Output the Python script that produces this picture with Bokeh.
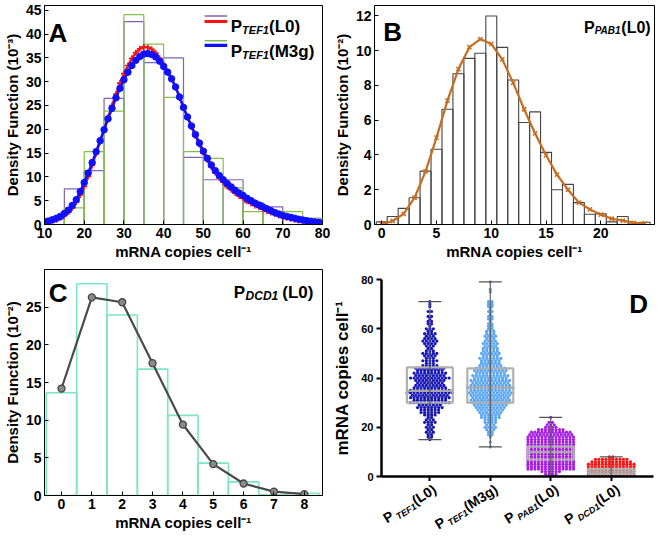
import math
from bokeh.plotting import figure
from bokeh.layouts import column, row
from bokeh.models import Label, BoxAnnotation, FixedTicker, Range1d, Div
from bokeh.embed import file_html
from bokeh.resources import INLINE

FONT = "Liberation Sans"

# ---------------- data ----------------
# Panel A
a_edges = [10, 15, 20, 25, 30, 35, 40, 45, 50, 55, 60, 65, 70, 75, 80]
a_hist_L0 = [1.3, 7.5, 11.3, 26.5, 42.6, 34.0, 35.0, 14.1, 9.4, 9.4, 4.6, 3.7, 1.5, 0.8]
a_hist_M3g = [1.2, 3.5, 15.3, 23.8, 44.1, 37.9, 26.7, 15.3, 13.9, 7.7, 2.7, 2.7, 2.7, 1.36]
a_x = list(range(10, 81))
a_fit_L0 = [0.3, 0.45, 0.7, 1.0, 1.4, 1.9, 2.6, 3.5, 4.7, 6.2,
            8.0, 10.1, 12.4, 14.9, 17.4, 19.9, 22.5, 25.0, 27.4, 29.7,
            31.7, 33.4, 34.9, 36.1, 36.9, 37.3, 37.2, 36.8, 36.0, 34.9,
            33.6, 32.2, 30.6, 28.8, 26.7, 24.6, 22.5, 20.5, 18.6, 16.8,
            15.1, 13.5, 12.1, 10.9, 9.8, 8.9, 8.0, 7.3, 6.6, 6.0,
            5.5, 4.9, 4.4, 4.0, 3.6, 3.2, 2.8, 2.5, 2.2, 1.9,
            1.6, 1.4, 1.2, 1.0, 0.85, 0.7, 0.6, 0.5, 0.4, 0.32, 0.26]
a_fit_M3g = [0.5, 0.7, 1.0, 1.3, 1.7, 2.3, 3.0, 4.0, 5.2, 6.9,
             8.8, 10.8, 13.0, 15.3, 17.6, 19.9, 22.2, 24.4, 26.6, 28.6,
             30.4, 32.0, 33.4, 34.5, 35.3, 35.8, 35.9, 35.7, 35.2, 34.3,
             33.2, 32.0, 30.6, 28.9, 26.8, 24.6, 22.6, 20.7, 18.9, 17.1,
             15.4, 13.9, 12.5, 11.3, 10.3, 9.4, 8.6, 7.9, 7.2, 6.6,
             6.1, 5.5, 5.0, 4.5, 4.1, 3.7, 3.3, 2.9, 2.5, 2.2,
             1.9, 1.7, 1.5, 1.3, 1.1, 0.95, 0.8, 0.65, 0.55, 0.45, 0.35]

# Panel B
b_x = list(range(0, 25))
b_hist = [0.15, 0.46, 0.93, 1.54, 3.07, 4.33, 6.63, 8.67, 9.56, 9.85, 12.0, 10.19, 8.31,
          5.87, 6.48, 4.15, 2.0, 2.31, 1.26, 0.59, 0.61, 0.15, 0.46, 0.03, 0.13]
b_fit = [0.02, 0.2, 0.61, 1.54, 3.06, 5.0, 7.13, 8.94, 10.2, 10.67, 10.39, 9.5, 8.15,
         6.63, 5.24, 3.98, 2.87, 2.0, 1.26, 0.87, 0.57, 0.33, 0.22, 0.09, 0.07]

# Panel C
c_x = list(range(0, 9))
c_hist = [13.64, 28.1, 23.97, 16.78, 10.63, 4.30, 1.81, 0.1, 0.3]
c_fit = [14.2, 26.3, 25.65, 17.56, 9.42, 4.17, 1.59, 0.52, 0.17]

# Panel D (dot counts per integer copy number)
d_cats = [1, 2, 3, 4]
d_subs = ["TEF1", "TEF1", "PAB1", "DCD1"]
d_tails = ["(L0)", "(M3g)", "(L0)", "(L0)"]
d_colors = ["#1616b8", "#5aa6f4", "#a51fe2", "#ff1414"]
d_tef1_l0_values = list(range(15, 72))
d_tef1_l0_counts = [1, 2, 2, 3, 2, 3, 2, 4, 3, 2, 4, 6, 6, 8, 7, 12, 10, 12, 11, 14,
                    12, 10, 9, 8, 9, 12, 9, 10, 8, 9, 5, 3, 5, 3, 4, 5, 3, 2, 3, 4,
                    5, 4, 3, 4, 2, 3, 1, 2, 2, 1, 2, 0, 2, 0, 1, 1, 1]
d_tef1_m3g_values = list(range(12, 80))
d_tef1_m3g_counts = [1, 0, 1, 0, 1, 2, 2, 3, 4, 3, 4, 4, 6, 6, 7, 8, 9, 10, 11, 12,
                     11, 12, 13, 12, 14, 12, 11, 12, 10, 11, 9, 10, 9, 7, 6, 6, 7, 5, 6, 5,
                     5, 4, 5, 4, 3, 4, 3, 3, 2, 2, 2, 1, 2, 2, 1, 2, 1, 2, 2, 2,
                     0, 0, 0, 1, 1, 0, 0, 1]
d_pab1_values = list(range(0, 25))
d_pab1_counts = [3, 4, 6, 14, 14, 14, 14, 14, 14, 14, 14, 14, 14, 14, 14, 14, 14, 13, 12, 8,
                 4, 3, 2, 0, 1]
d_dcd1_values = list(range(0, 9))
d_dcd1_counts = [14, 14, 14, 14, 14, 14, 12, 10, 2]
d_q1 = [30.0, 30.0, 6.9, 1.1]
d_median = [34.8, 36.1, 9.9, 2.0]
d_q3 = [44.3, 43.9, 12.1, 3.1]
d_min = [15, 12, 0, 0]
d_max = [71, 79, 24, 8]

# ---------------- helpers ----------------
WID = {'P': .667, 'T': .611, 'E': .667, 'F': .611, '1': .556, '(': .333, ')': .333,
       'L': .611, '0': .556, 'M': .833, '3': .556, 'g': .611, 'A': .722, 'B': .722,
       'D': .722, 'C': .722, ' ': .278}


def tw(s, size):
    return sum(WID.get(ch, 0.6) for ch in s) * size


def compose(p, x, y, pieces, align="left"):
    total = sum(tw(t, s) + g for t, s, it, sh, g in pieces)
    cum = 0.0 if align == "left" else -total
    for t, s, it, sh, g in pieces:
        cum += g
        p.add_layout(Label(x=x, y=y, x_offset=cum, y_offset=-sh, text=t, text_font=FONT,
                           text_font_style="bold italic" if it else "bold",
                           text_font_size=f"{s}px", text_baseline="alphabetic",
                           text_align="left", text_color="black"))
        cum += tw(t, s)


def style_matlab(p, xticks, yticks, xlabel, ylabel):
    p.xaxis.ticker = FixedTicker(ticks=xticks)
    p.yaxis.ticker = FixedTicker(ticks=yticks)
    for ax in (p.xaxis, p.yaxis):
        ax.major_tick_in = 4
        ax.major_tick_out = 0
        ax.major_tick_line_color = "black"
        ax.minor_tick_line_color = None
        ax.axis_line_color = "black"
        ax.major_label_text_font = FONT
        ax.major_label_text_font_style = "bold"
        ax.major_label_text_font_size = "14px"
        ax.major_label_text_color = "black"
        ax.axis_label_text_font = FONT
        ax.axis_label_text_font_style = "bold"
        ax.axis_label_text_font_size = "15px"
        ax.axis_label_text_color = "black"
        ax.axis_label_standoff = 2
        ax.major_label_standoff = 3
    p.xaxis.axis_label = xlabel
    p.yaxis.axis_label = ylabel
    p.xgrid.visible = False
    p.ygrid.visible = False
    p.outline_line_color = "black"
    p.outline_line_alpha = 1.0
    p.background_fill_color = "white"


def letter(p, x, y, t):
    p.add_layout(Label(x=x, y=y, text=t, text_font=FONT, text_font_style="bold",
                       text_font_size="26px", text_baseline="alphabetic",
                       text_color="black"))


XLAB = "mRNA copies cell\u207b\u00b9"

# ---------------- Panel A ----------------
pA = figure(width=330, height=264, x_range=Range1d(10, 80), y_range=Range1d(0, 46),
            output_backend="svg", toolbar_location=None,
            min_border_left=37, min_border_right=8, min_border_top=5, min_border_bottom=40)
style_matlab(pA, [10, 20, 30, 40, 50, 60, 70, 80], [0, 5, 10, 15, 20, 25, 30, 35, 40, 45],
             XLAB, "Density Function (10\u207b\u00b3)")
pA.quad(left=a_edges[:-1], right=a_edges[1:], bottom=0, top=a_hist_L0,
        fill_color=None, line_color="#7f63b8", line_width=1.2)
pA.quad(left=a_edges[:-1], right=a_edges[1:], bottom=0, top=a_hist_M3g,
        fill_color=None, line_color="#86c04c", line_width=1.2)
pA.line(a_x, a_fit_L0, line_color="#ff1010", line_width=2.2)
pA.scatter(a_x, a_fit_L0, marker="cross", size=6, line_color="#ff1010", line_width=1.6)
pA.line(a_x, a_fit_M3g, line_color="#1010ff", line_width=2.5)
pA.scatter(a_x, a_fit_M3g, marker="circle", size=6.5, fill_color="#1010ff", line_color="#1010ff")
letter(pA, 11.0, 40.3, "A")
# legend
for (b, t, col) in [(43.65, 43.97, "#7f63b8"), (42.3, 42.95, "#ff1010"),
                    (38.45, 38.77, "#86c04c"), (37.3, 37.95, "#1010ff")]:
    pA.add_layout(BoxAnnotation(left=50.3, right=56.0, bottom=b, top=t,
                                fill_color=col, fill_alpha=1.0, line_color=None))
compose(pA, 56.9, 41.6, [("P", 17, False, 0, 0), ("TEF1", 11, True, 3.5, 0), ("(L0)", 17, False, 0, 0)])
compose(pA, 56.9, 36.3, [("P", 17, False, 0, 0), ("TEF1", 11, True, 3.5, 0), ("(M3g)", 17, False, 0, 0)])

# ---------------- Panel B ----------------
pB = figure(width=326, height=264, x_range=Range1d(-0.66, 24.9), y_range=Range1d(0, 12.6),
            output_backend="svg", toolbar_location=None,
            min_border_left=42, min_border_right=2, min_border_top=5, min_border_bottom=40)
style_matlab(pB, [0, 5, 10, 15, 20], [0, 2, 4, 6, 8, 10, 12],
             XLAB, "Density Function (10\u207b\u00b2)")
pB.quad(left=[v - 0.5 for v in b_x], right=[v + 0.5 for v in b_x], bottom=0, top=b_hist,
        fill_color=None, line_color="#444444", line_width=1.1)
pB.line(b_x, b_fit, line_color="#c86d1e", line_width=2.2)
pB.scatter(b_x, b_fit, marker="x", size=6, line_color="#c86d1e", line_width=1.5)
letter(pB, 0.15, 11.1, "B")
compose(pB, 24.55, 11.35, [("P", 16, False, 0, 0), ("PAB1", 10, True, 3.5, 0), ("(L0)", 16, False, 0, 0)],
        align="right")

# ---------------- Panel C ----------------
pC = figure(width=330, height=271, x_range=Range1d(-0.56, 8.6), y_range=Range1d(0, 30),
            output_backend="svg", toolbar_location=None,
            min_border_left=37, min_border_right=8, min_border_top=5, min_border_bottom=40)
style_matlab(pC, [0, 1, 2, 3, 4, 5, 6, 7, 8], [0, 5, 10, 15, 20, 25],
             XLAB, "Density Function (10\u207b\u00b2)")
pC.quad(left=[v - 0.5 for v in c_x], right=[v + 0.5 for v in c_x], bottom=0, top=c_hist,
        fill_color=None, line_color="#7be6c6", line_width=1.6)
pC.line(c_x, c_fit, line_color="#4a4a4a", line_width=2.2)
pC.scatter(c_x, c_fit, marker="circle", size=7, fill_color="#8a8a8a", line_color="#444444",
           line_width=1.3)
letter(pC, -0.42, 26.9, "C")
compose(pC, 8.3, 27.0, [("P", 17, False, 0, 0), ("DCD1", 12, True, 3.5, 0.5), ("(L0)", 17, False, 0, 4)],
        align="right")

# ---------------- Panel D ----------------
D_LEFT, D_RIGHT, D_W = 48, 3, 326
D_X0, D_X1 = 0.2, 4.7
pD = figure(width=D_W, height=217, x_range=Range1d(D_X0, D_X1), y_range=Range1d(0, 80),
            output_backend="svg", toolbar_location=None,
            min_border_left=D_LEFT, min_border_right=D_RIGHT, min_border_top=15, min_border_bottom=5)
pD.xgrid.visible = False
pD.ygrid.visible = False
pD.outline_line_color = None
pD.yaxis.ticker = FixedTicker(ticks=[0, 20, 40, 60, 80])
pD.xaxis.ticker = FixedTicker(ticks=d_cats)
pD.xaxis.major_label_overrides = {1: "", 2: "", 3: "", 4: ""}
for ax in (pD.xaxis, pD.yaxis):
    ax.axis_line_width = 2.5
    ax.axis_line_color = "black"
    ax.major_tick_line_width = 2
    ax.major_tick_in = 0
    ax.major_tick_out = 5
    ax.minor_tick_line_color = None
    ax.major_label_text_font = FONT
    ax.major_label_text_font_style = "bold"
    ax.major_label_text_font_size = "11px"
    ax.major_label_text_color = "black"
    ax.major_label_standoff = 3
pD.xaxis.major_label_text_font_size = "0px"
pD.xaxis.major_label_standoff = 0
pD.yaxis.axis_label = XLAB
pD.yaxis.axis_label_text_font = FONT
pD.yaxis.axis_label_text_font_style = "bold"
pD.yaxis.axis_label_text_font_size = "17px"
pD.yaxis.axis_label_text_color = "black"
pD.yaxis.axis_label_standoff = 6

groups = [(d_tef1_l0_values, d_tef1_l0_counts), (d_tef1_m3g_values, d_tef1_m3g_counts),
          (d_pab1_values, d_pab1_counts), (d_dcd1_values, d_dcd1_counts)]
STEP = 0.058
for cat, (vals, cnts), col in zip(d_cats, groups, d_colors):
    xs, ys = [], []
    for v, c in zip(vals, cnts):
        for j in range(c):
            xs.append(cat + (j - (c - 1) / 2) * STEP)
            ys.append(v)
    pD.scatter(xs, ys, marker="circle", size=3.2, fill_color=col, line_color=None)

BW = 0.38
pD.quad(left=[c - BW for c in d_cats], right=[c + BW for c in d_cats], bottom=d_q1, top=d_q3,
        fill_color=None, line_color="#b0b0b0", line_width=2.2)
pD.segment(x0=[c - BW for c in d_cats], x1=[c + BW for c in d_cats], y0=d_median, y1=d_median,
           line_color="#a8a8a8", line_width=2.2)
pD.segment(x0=d_cats, x1=d_cats, y0=d_min, y1=d_max, line_color="#555555", line_width=1.1)
CW = 0.19
pD.segment(x0=[c - CW for c in d_cats], x1=[c + CW for c in d_cats], y0=d_min, y1=d_min,
           line_color="#555555", line_width=1.3)
pD.segment(x0=[c - CW for c in d_cats], x1=[c + CW for c in d_cats], y0=d_max, y1=d_max,
           line_color="#555555", line_width=1.3)
letter(pD, 4.30, 70.0, "D")

# rotated category labels (HTML, below panel D; positions follow D's x scale)
LAB_H = 54
px_per_unit = (D_W - D_LEFT - D_RIGHT) / (D_X1 - D_X0)
parts = []
for cat, sub, tail in zip(d_cats, d_subs, d_tails):
    tick_x = D_LEFT + (cat - D_X0) * px_per_unit
    right = D_W - (tick_x + 4)
    parts.append(
        f'<div style="position:absolute; right:{right:.1f}px; top:0px; white-space:nowrap; '
        f'transform-origin:100% 0%; transform:rotate(-32deg); line-height:16px; '
        f'font-family:\'{FONT}\'; font-weight:bold; font-size:14px; color:black;">'
        f'P<span style="font-size:9px; font-style:italic; position:relative; top:3px; '
        f'margin-left:2.5px;">{sub}</span>{tail}</div>')
lab_html = (f'<div style="position:relative; width:{D_W}px; height:{LAB_H}px; overflow:visible;">'
            + "".join(parts) + '</div>')
labD = Div(text=lab_html, width=D_W, height=LAB_H, margin=0)

layout = column(row(pA, pB), row(pC, column(pD, labD)))
open("out.html", "w").write(file_html(layout, INLINE))
